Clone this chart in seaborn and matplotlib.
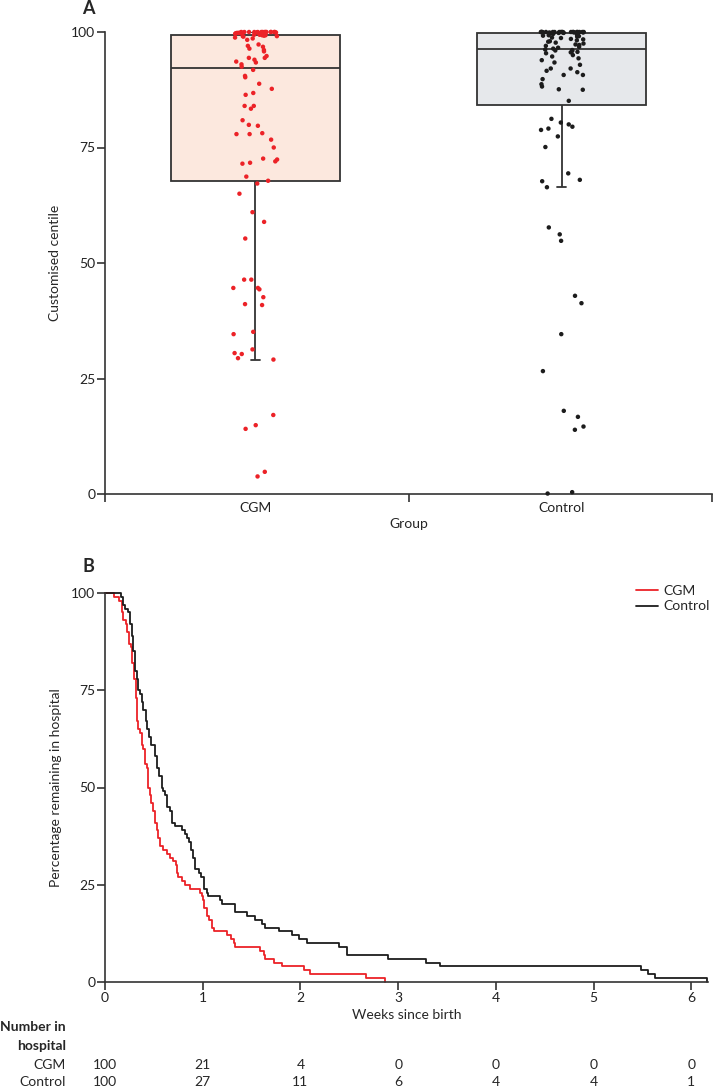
import numpy as np
import pandas as pd
import seaborn as sns
import matplotlib.pyplot as plt
from matplotlib.transforms import blended_transform_factory

sns.set_theme(style="ticks")
plt.rcParams["font.family"] = ["Lato", "DejaVu Sans"]

# A: customised centile per infant
cgm_centile = [3.8, 4.8, 14.1, 14.9, 17.1, 29.1, 29.4, 30.3, 30.5, 31.3,
               34.6, 35.1, 40.9, 41.1, 42.6, 44.3, 44.6, 44.6, 46.4, 46.4,
               55.3, 58.9, 61.0, 65.0, 67.2,
               67.8, 68.7, 71.5, 71.7, 72.0, 72.4, 72.6, 75.0, 76.7, 77.9,
               77.9, 78.1, 79.7, 79.9, 80.9, 83.4, 84.0, 84.0, 86.4, 86.8,
               87.7, 88.8, 90.2, 90.5, 91.8,
               92.5, 93.0, 93.4, 93.6, 94.0, 94.4, 94.4, 94.8, 95.8, 96.1,
               96.4, 96.8, 97.0, 97.3, 98.3, 98.6, 98.8, 99.0, 99.1, 99.1,
               99.2, 99.3, 99.3, 99.4, 99.4,
               99.6, 99.7, 99.7, 99.8, 99.8, 99.8, 99.9, 99.9, 99.9, 99.9,
               99.9, 100, 100, 100, 100, 100, 100, 100, 100, 100,
               100, 100, 100, 100, 100]
control_centile = [0.1, 0.4, 13.9, 14.6, 16.7, 18.0, 26.6, 34.6, 41.3, 42.9,
                   54.8, 56.2, 57.7, 66.4, 67.7, 68.0, 69.4, 75.1, 77.4, 78.8,
                   79.1, 79.5, 80.0, 80.4, 81.2,
                   85.1, 87.5, 87.6, 88.2, 88.7, 89.8, 90.7, 90.7, 91.3, 91.6,
                   92.1, 92.1, 92.9, 93.4, 93.9, 94.3, 94.7, 95.0, 95.4, 95.6,
                   95.7, 95.9, 96.0, 96.1, 96.2,
                   96.4, 96.6, 96.8, 97.0, 97.2, 97.3, 97.5, 97.7, 97.9, 98.0,
                   98.2, 98.4, 98.5, 98.7, 98.8, 99.0, 99.1, 99.2, 99.3, 99.4,
                   99.5, 99.6, 99.7, 99.8, 99.8,
                   99.9, 99.9, 99.9, 99.9, 99.9, 99.9, 100, 100, 100, 100,
                   100, 100, 100, 100, 100, 100, 100, 100, 100, 100,
                   100, 100, 100, 100, 100]

# B: Kaplan-Meier steps (weeks, % remaining after the step)
cgm_weeks = [0, 0.09, 0.147, 0.171, 0.188, 0.215, 0.229, 0.246, 0.263, 0.280,
             0.300, 0.314, 0.325, 0.341, 0.359, 0.376, 0.392, 0.413, 0.427, 0.437,
             0.444, 0.458, 0.468, 0.489, 0.512, 0.530, 0.546, 0.564, 0.591, 0.632,
             0.666, 0.700, 0.727, 0.740, 0.751, 0.786, 0.820, 0.871, 0.973, 0.991,
             1.005, 1.014, 1.042, 1.069, 1.093, 1.12, 1.25, 1.29, 1.315, 1.332,
             1.588, 1.622, 1.639, 1.725, 1.811, 2.033, 2.101, 2.67, 2.86]
cgm_pct = [100, 99, 98, 95, 93, 92, 90, 87, 86, 82,
           78, 73, 67, 65, 64, 61, 60, 56, 55, 52,
           50, 48, 46, 44, 41, 39, 37, 35, 34, 33,
           32, 31, 30, 28, 27, 26, 25, 24, 23, 22,
           21, 19, 17, 16, 14, 13, 12, 11, 10, 9,
           8, 7, 6, 5, 4, 3, 2, 1, 0]
ctrl_weeks = [0, 0.160, 0.180, 0.200, 0.235, 0.256, 0.273, 0.290, 0.307, 0.331,
              0.341, 0.359, 0.376, 0.392, 0.417, 0.434, 0.451, 0.468, 0.512, 0.536,
              0.557, 0.581, 0.598, 0.615, 0.632, 0.666, 0.683, 0.717, 0.786, 0.820,
              0.844, 0.864, 0.878, 0.898, 0.922, 0.963, 0.980, 1.014, 1.042, 1.059,
              1.178, 1.196, 1.332, 1.452, 1.537, 1.605, 1.639, 1.776, 1.912, 1.981,
              2.066, 2.39, 2.48, 2.90, 3.28, 3.43, 5.48, 5.56, 5.625, 6.16]
ctrl_pct = [100, 99, 97, 96, 95, 92, 89, 85, 80, 78,
            75, 74, 72, 70, 67, 65, 63, 61, 58, 55,
            53, 50, 49, 48, 45, 44, 41, 40, 39, 38,
            37, 36, 34, 32, 29, 28, 27, 24, 23, 22,
            21, 20, 18, 17, 16, 15, 14, 13, 12, 11,
            10, 9, 7, 6, 5, 4, 3, 2, 1, 0]

# number in hospital table
risk_weeks = [0, 1, 2, 3, 4, 5, 6]
cgm_at_risk = [100, 21, 4, 0, 0, 0, 0]
control_at_risk = [100, 27, 11, 6, 4, 4, 1]

red = "#ec2227"
black = "#1c1c1c"
dark = "#333333"
fs = 10

fig = plt.figure(figsize=(7.14, 10.89), dpi=100)
ax_a = fig.add_axes([105 / 714, 1 - 494 / 1089, 607 / 714, 462 / 1089])
ax_b = fig.add_axes([105 / 714, 1 - 982 / 1089, 603 / 714, 389 / 1089])

# ---- panel A
centile = pd.DataFrame({
    "Group": ["CGM"] * len(cgm_centile) + ["Control"] * len(control_centile),
    "centile": cgm_centile + control_centile,
})
sns.boxplot(data=centile, x="Group", y="centile", hue="Group",
            palette={"CGM": "#fce8de", "Control": "#e6e8eb"}, saturation=1,
            width=0.55, whis=1.5, showfliers=False, linecolor=dark,
            linewidth=1.3, capwidths=0.03, legend=False, ax=ax_a)
np.random.seed(3)
sns.stripplot(data=centile, x="Group", y="centile", hue="Group",
              palette={"CGM": red, "Control": black}, jitter=0.075, size=3.2,
              linewidth=0, legend=False, ax=ax_a, clip_on=False, zorder=3)

ax_a.set_ylim(0, 100)
ax_a.set_xlim(-0.49, 1.49)
ax_a.set_yticks([0, 25, 50, 75, 100])
ax_a.set_xticks([0, 1])
ax_a.set_xticks([-0.49, 0.5, 1.49], minor=True)
ax_a.tick_params(axis="x", which="major", length=0, pad=6)
ax_a.tick_params(axis="x", which="minor", length=6, width=1.2, color=dark)
ax_a.tick_params(axis="y", length=6, width=1.2, color=dark, pad=1)
ax_a.set_xlabel("Group", fontsize=fs)
ax_a.set_ylabel("Customised centile", fontsize=fs)
ax_a.xaxis.set_label_coords(0.5, -0.052)
ax_a.yaxis.set_label_coords(-0.072, 0.5)

# ---- panel B
km = pd.DataFrame({
    "weeks": cgm_weeks + ctrl_weeks,
    "pct": cgm_pct + ctrl_pct,
    "Group": ["CGM"] * len(cgm_weeks) + ["Control"] * len(ctrl_weeks),
})
sns.lineplot(data=km, x="weeks", y="pct", hue="Group",
             palette={"CGM": red, "Control": black}, estimator=None, sort=False,
             drawstyle="steps-post", linewidth=1.3, ax=ax_b, clip_on=False)
ax_b.set_xlim(0, 6.17)
ax_b.set_ylim(0, 100)
ax_b.set_xticks(risk_weeks)
ax_b.set_yticks([0, 25, 50, 75, 100])
ax_b.tick_params(length=6, width=1.2, color=dark, pad=1)
ax_b.set_xlabel("Weeks since birth", fontsize=fs)
ax_b.set_ylabel("Percentage remaining in hospital", fontsize=fs)
ax_b.xaxis.set_label_coords(0.5, -0.07)
ax_b.yaxis.set_label_coords(-0.072, 0.5)
sns.move_legend(ax_b, "upper right", bbox_to_anchor=(1.012, 1.035), title=None,
                frameon=False, handlelength=1.6, handletextpad=0.4,
                labelspacing=0.25, fontsize=fs, borderaxespad=0)

for ax in (ax_a, ax_b):
    sns.despine(ax=ax)
    for s in ("left", "bottom"):
        ax.spines[s].set_linewidth(1.2)
        ax.spines[s].set_color(dark)
    ax.tick_params(labelsize=fs, labelcolor="#222222")

# number in hospital
tr = blended_transform_factory(ax_b.transData, fig.transFigure)
for w, n in zip(risk_weeks, cgm_at_risk):
    ax_b.text(w, 1 - 1065 / 1089, str(n), transform=tr, ha="center", va="center", fontsize=fs)
for w, n in zip(risk_weeks, control_at_risk):
    ax_b.text(w, 1 - 1082 / 1089, str(n), transform=tr, ha="center", va="center", fontsize=fs)
fig.text(66 / 714, 1 - 1027 / 1089, "Number in", ha="right", va="center", fontsize=fs, weight="bold")
fig.text(66 / 714, 1 - 1046 / 1089, "hospital", ha="right", va="center", fontsize=fs, weight="bold")
fig.text(66 / 714, 1 - 1065 / 1089, "CGM", ha="right", va="center", fontsize=fs)
fig.text(66 / 714, 1 - 1082 / 1089, "Control", ha="right", va="center", fontsize=fs)

fig.text(88 / 714, 1 - 9 / 1089, "A", ha="center", va="center", fontsize=13, weight="bold")
fig.text(88 / 714, 1 - 566 / 1089, "B", ha="center", va="center", fontsize=13, weight="bold")

fig.savefig("out.png", dpi=100)
